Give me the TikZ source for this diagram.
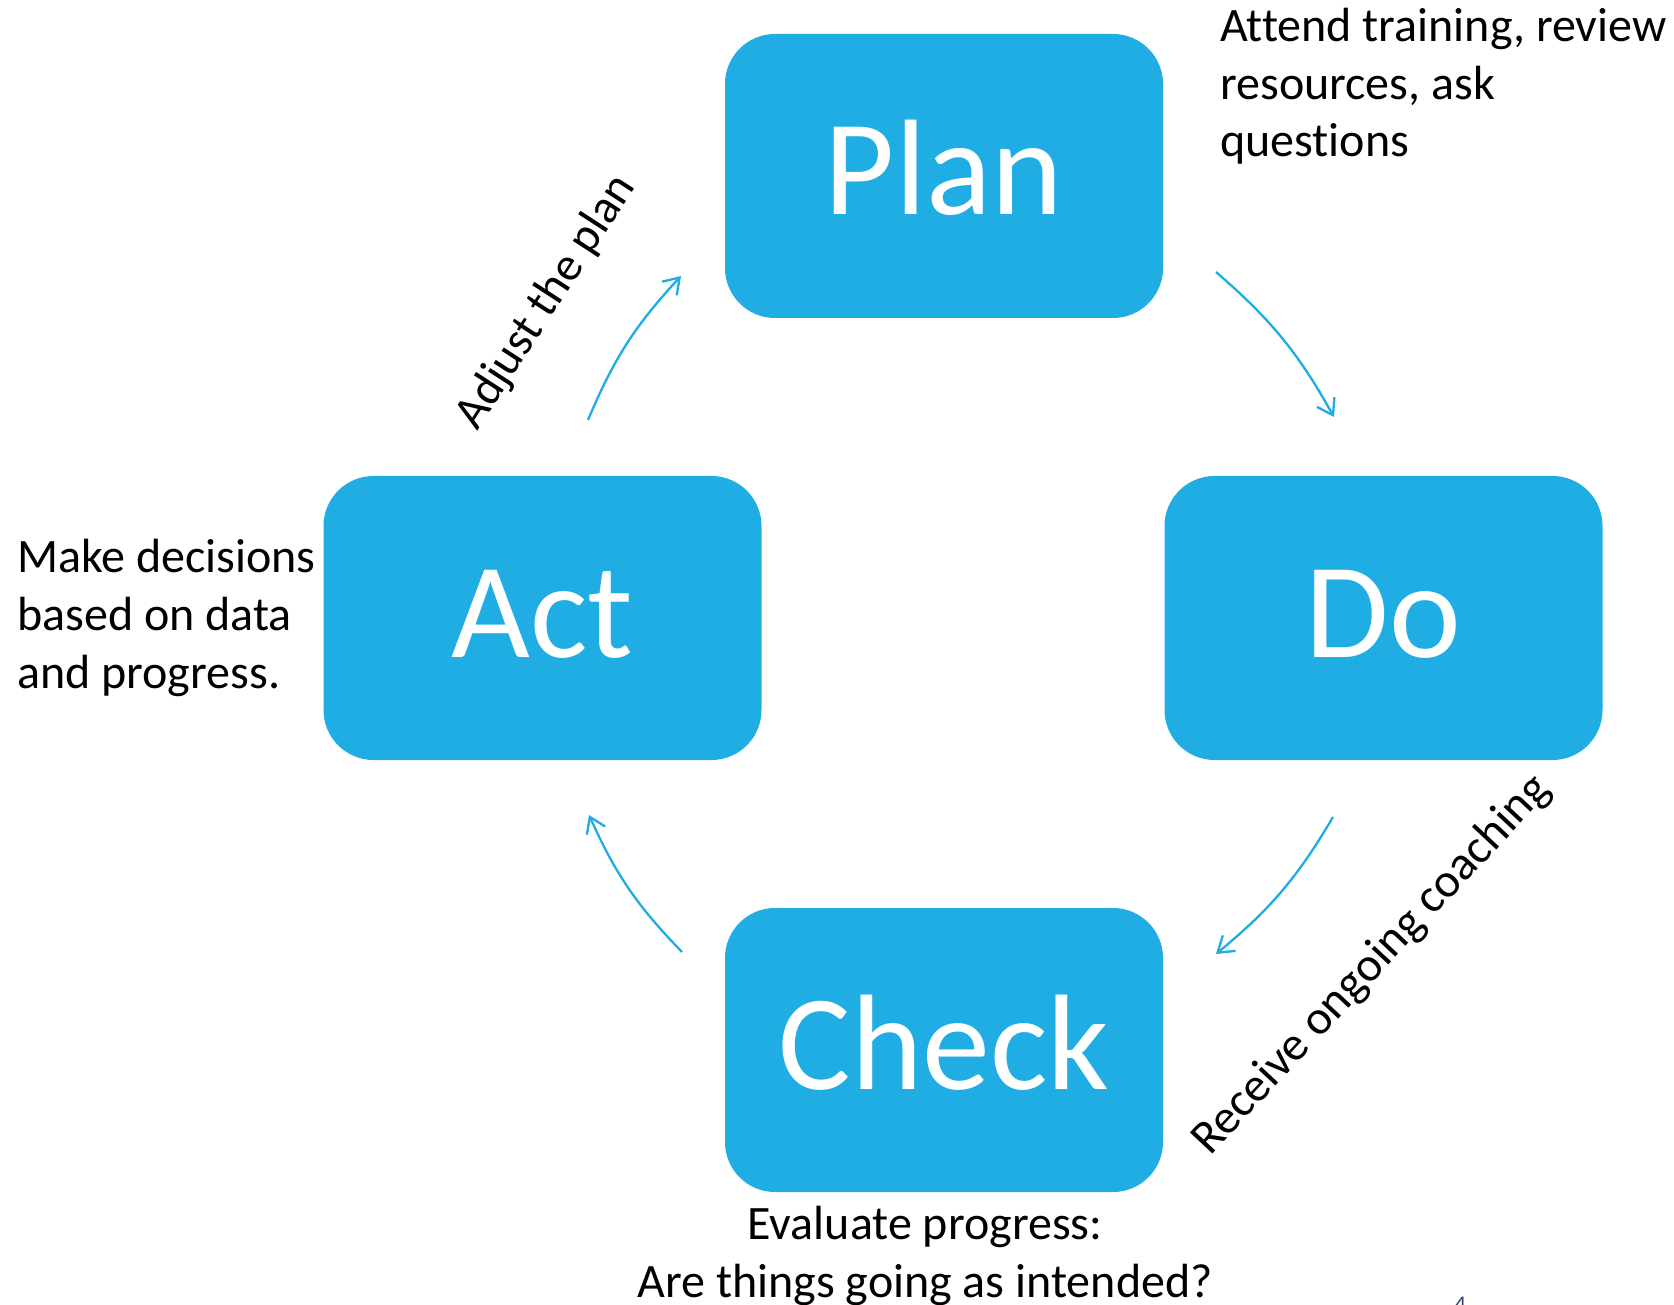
\documentclass[tikz,border=0pt]{standalone}
\usepackage{fontspec}
\setmainfont{Carlito}[Ligatures=NoCommon]
\usetikzlibrary{arrows.meta}
\definecolor{cycleblue}{RGB}{31,173,227}
\definecolor{slidenum}{RGB}{55,70,130}

\begin{document}
\begin{tikzpicture}[x=1pt,y=-1pt,
  stage/.style={fill=cycleblue, rounded corners=50pt, minimum width=438pt,
    minimum height=284pt, inner sep=0pt, text=white,
    text height=78pt, text depth=0pt,
    font=\fontsize{136}{136}\selectfont},
  note/.style={inner sep=0pt, text=black, font=\fontsize{48}{57.6}\selectfont},
  cyc/.style={draw=cycleblue, line width=2.3pt,
    -{Straight Barb[length=15pt,width=20pt]}}]

% page area with white background
\fill[white] (0,0) rectangle (1674,1305);
\useasboundingbox (0,0) rectangle (1674,1305);

% the four stages
\node[stage] (plan)  at (944,176)   {Plan};
\node[stage] (act)   at (542.5,618) {Act};
\node[stage] (do)    at (1383.5,618){Do};
\node[stage] (check) at (944,1050)  {Check};

% end points of the cycle arrows
\coordinate (ap-s) at (588,420);
\coordinate (ap-e) at (681,276);
\coordinate (pd-s) at (1216,272);
\coordinate (pd-e) at (1334,417);
\coordinate (dc-s) at (1333,817);
\coordinate (dc-e) at (1216,954);
\coordinate (ca-s) at (682,952);
\coordinate (ca-e) at (589,815);

\draw[cyc] (ap-s) to[bend left=10] (ap-e);
\draw[cyc] (pd-s) to[bend left=10] (pd-e);
\draw[cyc] (dc-s) to[bend left=10] (dc-e);
\draw[cyc] (ca-s) to[bend left=10] (ca-e);

% descriptions (base anchor sits on the last line)
\node[note, anchor=base west, align=left] (plan-note) at (1220,157)
  {Attend training, review\\resources, ask\\questions};
\node[note, anchor=base west, align=left] (act-note) at (17,688)
  {Make decisions\\based on data\\and progress.};
\node[note, anchor=base, align=center] (check-note) at (925,1297)
  {Evaluate progress:\\Are things going as intended?};
\node[note, anchor=base west, rotate=57, font=\fontsize{47.5}{57}\selectfont] (adjust) at (477,432) {Adjust the plan};
\node[note, anchor=base west, rotate=47, font=\fontsize{48}{57}\selectfont] (coach) at (1210,1157) {Receive ongoing coaching};

% slide number, mostly below the page edge
\node[inner sep=0pt, anchor=north west, text=slidenum,
  font=\fontsize{24}{24}\selectfont] (slide-no) at (1454,1297) {4};
\end{tikzpicture}
\end{document}
